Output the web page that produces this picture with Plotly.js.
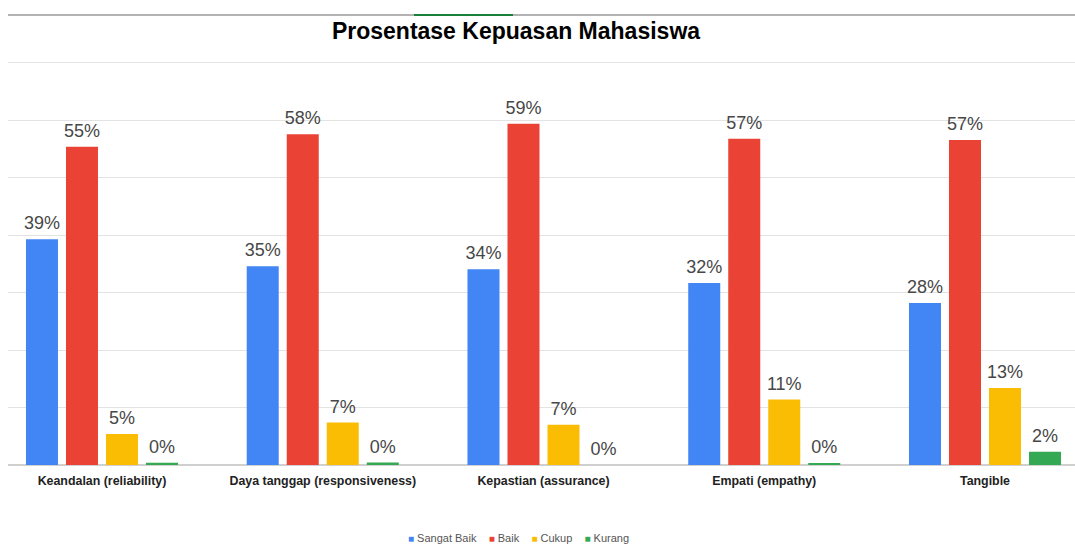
<!DOCTYPE html>
<html>
<head>
<meta charset="utf-8">
<script src="https://cdn.plot.ly/plotly-3.0.1.min.js"></script>
<style>html,body{margin:0;padding:0;background:#fff;}#chart{width:1075px;height:544px;}</style>
</head>
<body>
<div id="chart"></div>
<script>
const categories = ["Keandalan (reliability)", "Daya tanggap (responsiveness)", "Kepastian (assurance)", "Empati (empathy)", "Tangible"];
const seriesNames = ["Sangat Baik", "Baik", "Cukup", "Kurang"];
const sangatBaik = [39.3, 34.6, 34.1, 31.7, 28.2];
const baik = [55.4, 57.6, 59.4, 56.8, 56.6];
const cukup = [5.4, 7.4, 7.0, 11.4, 13.4];
const kurang = [0.4, 0.45, 0, 0.35, 2.3];
const colors = ["#4285F4", "#EA4335", "#FBBC04", "#34A853"];
const seriesValues = [sangatBaik, baik, cukup, kurang];

const traces = [];
seriesValues.forEach((vals, i) => {
  traces.push({
    type: "bar", name: seriesNames[i], x: categories, y: vals,
    marker: {color: colors[i]}, hoverinfo: "skip", showlegend: false
  });
});
seriesValues.forEach((vals, i) => {
  traces.push({
    type: "scatter", mode: "markers+text", x: categories, y: vals,
    showlegend: false, hoverinfo: "skip", cliponaxis: false,
    marker: {size: 7, opacity: 0, color: colors[i]},
    texttemplate: "%{y:.0f}%", textposition: "top center",
    textfont: {family: "Liberation Sans, Arial, sans-serif", size: 18, color: "#474747"}
  });
});

const NB = "\u00A0";
const legendText = seriesNames.map((n, i) =>
  "<span style='color:" + colors[i] + ";font-size:10px'>■</span>" + NB + n
).join(NB + NB + NB + NB);

const layout = {
  width: 1075, height: 544,
  margin: {l: 8, r: 0, t: 57, b: 79, autoexpand: false},
  paper_bgcolor: "#ffffff", plot_bgcolor: "#ffffff",
  barmode: "group", bargap: 0.275, bargroupgap: 0.2,
  scattermode: "group", scattergap: 0.275,
  showlegend: false,
  title: {
    text: "<b>Prosentase Kepuasan Mahasiswa</b>",
    font: {family: "Liberation Sans, Arial, sans-serif", size: 23, color: "#000"},
    x: 0.48, xanchor: "center", xref: "container",
    y: 0.944, yanchor: "middle", yref: "container"
  },
  xaxis: {
    type: "category", range: [-0.4258, 4.4077], showgrid: false, zeroline: false,
    showline: false, ticks: "",
    tickfont: {family: "Liberation Sans, Arial, sans-serif", size: 12.4, color: "#222"},
    ticklabelstandoff: 7
  },
  yaxis: {
    range: [0, 71.04], dtick: 10, showticklabels: false, ticks: "",
    gridcolor: "#e3e3e3", gridwidth: 1,
    zeroline: true, zerolinecolor: "#d0d0d0", zerolinewidth: 2
  },
  annotations: [
    {xref: "paper", yref: "paper", x: 0.478, y: -0.179, xanchor: "center", yanchor: "middle",
     showarrow: false, text: legendText,
     font: {family: "Liberation Sans, Arial, sans-serif", size: 11, color: "#555"}}
  ],
  shapes: [
    {type: "line", xref: "paper", yref: "paper", x0: 0, x1: 1, y0: 450 / 408, y1: 450 / 408,
     line: {color: "#9a9a9a", width: 1.5}},
    {type: "line", xref: "paper", yref: "paper", x0: 0.3805, x1: 0.4733, y0: 450 / 408, y1: 450 / 408,
     line: {color: "#188038", width: 2}}
  ],
  font: {family: "Liberation Sans, Arial, sans-serif"}
};

layout.xaxis.tickvals = categories;
layout.xaxis.ticktext = categories.map(c => "<b>" + c + "</b>");

Plotly.newPlot("chart", traces, layout, {displayModeBar: false, staticPlot: true});
</script>
</body>
</html>
